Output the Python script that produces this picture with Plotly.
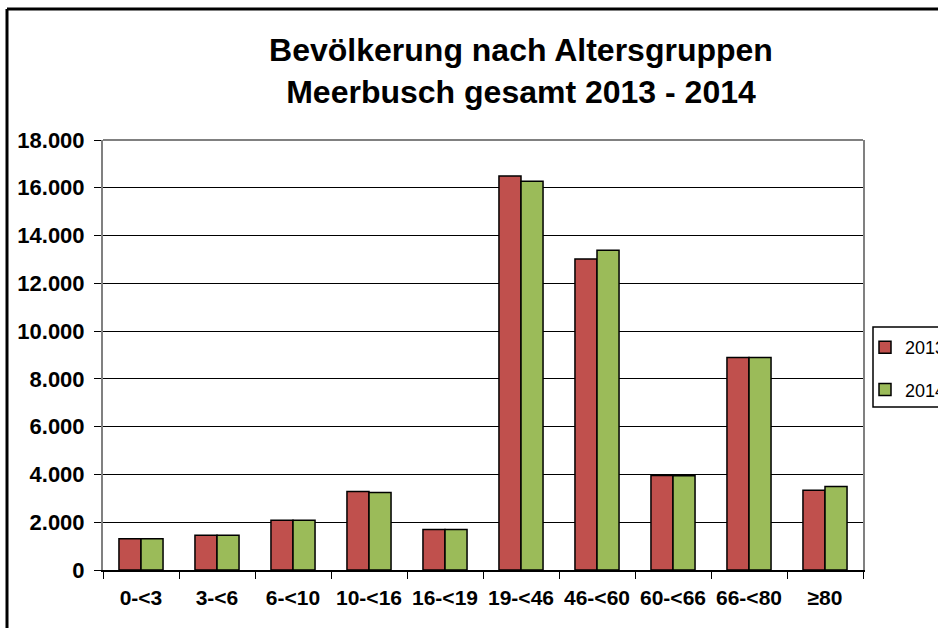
import plotly.graph_objects as go

categories = ["0-<3", "3-<6", "6-<10", "10-<16", "16-<19", "19-<46", "46-<60", "60-<66", "66-<80", "≥80"]
values_2013 = [1310, 1450, 2080, 3290, 1700, 16490, 13020, 3960, 8900, 3335]
values_2014 = [1310, 1450, 2080, 3240, 1700, 16270, 13380, 3950, 8900, 3500]
series_names = ["2013", "2014"]
title_lines = ["Bevölkerung nach Altersgruppen", "Meerbusch gesamt 2013 - 2014"]

W, H = 938, 628
L, R, T, B = 103, 863, 140, 570
FONT = "Arial, Liberation Sans, sans-serif"

def px_x(px):
    return (px - L) / (R - L)

def px_y(py):
    return (B - py) / (B - T)

fig = go.Figure()
fig.add_trace(go.Bar(x=categories, y=values_2013, name=series_names[0], legendgroup="a",
                     marker=dict(color="#C0504D", line=dict(color="black", width=1.5))))
fig.add_trace(go.Bar(x=categories, y=values_2014, name=series_names[1], legendgroup="b",
                     marker=dict(color="#9BBB59", line=dict(color="black", width=1.5))))

fig.update_layout(
    width=W, height=H,
    margin=dict(l=L, r=W - R, t=T, b=H - B, autoexpand=False),
    paper_bgcolor="white", plot_bgcolor="white",
    separators=",.",
    barmode="group", bargap=0.42, bargroupgap=0,
    title=dict(text="<br>".join(title_lines), x=px_x(521), xref="paper", xanchor="center",
               y=1 - 61 / H, yref="container", yanchor="middle",
               font=dict(family=FONT, size=32, color="black", weight="bold")),
    font=dict(family=FONT, color="black"),
    legend=dict(x=px_x(865), y=px_y(329), xanchor="left", yanchor="top",
                borderwidth=0, bgcolor="rgba(0,0,0,0)",
                font=dict(family=FONT, size=18, color="black"),
                tracegroupgap=16, itemwidth=30),
    showlegend=True,
)
fig.update_yaxes(range=[0, 18000], dtick=2000, tickformat=",d",
                 showgrid=True, gridcolor="black", gridwidth=1,
                 showline=True, linecolor="#808080", linewidth=2, mirror=True,
                 ticks="outside", ticklen=7, tickcolor="black", tickwidth=1,
                 ticklabelstandoff=5,
                 tickfont=dict(family=FONT, size=22, color="black", weight="bold"),
                 zeroline=False, fixedrange=True)
fig.update_xaxes(showline=True, linecolor="black", linewidth=2,
                 ticks="outside", ticklen=7, tickcolor="black", tickwidth=1,
                 tickson="boundaries", showgrid=False, ticklabelstandoff=8,
                 tickfont=dict(family=FONT, size=21, color="black", weight="bold"),
                 fixedrange=True)

# gray top border of plot area
fig.add_shape(type="line", xref="paper", yref="paper", x0=0, x1=1, y0=1, y1=1,
              line=dict(color="#808080", width=2))
# legend frame
fig.add_shape(type="rect", xref="paper", yref="paper",
              x0=px_x(873), x1=px_x(1000), y0=px_y(407), y1=px_y(327),
              line=dict(color="black", width=1.5), fillcolor="rgba(0,0,0,0)")
# outer chart frame (partially visible)
fx, fy = px_x(7), px_y(9)
fig.add_shape(type="line", xref="paper", yref="paper", x0=fx, x1=fx, y0=px_y(700), y1=fy,
              line=dict(color="black", width=3))
fig.add_shape(type="line", xref="paper", yref="paper", x0=fx, x1=px_x(1000), y0=fy, y1=fy,
              line=dict(color="black", width=3))

fig.write_html("out.html", config={"displayModeBar": False},
               post_script="document.body.style.margin='0';document.body.style.overflow='hidden';")
